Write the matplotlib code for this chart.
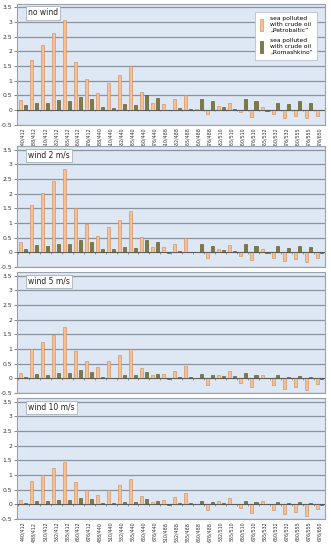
import numpy as np
import matplotlib.pyplot as plt
from matplotlib.patches import Patch

labels = ['440/412', '488/412', '510/412', '532/412', '555/412', '650/412', '676/412',
          '488/440', '510/440', '532/440', '555/440', '650/440', '676/440',
          '510/488', '532/488', '555/488', '650/488', '676/488',
          '532/510', '555/510', '650/510', '676/510',
          '555/532', '650/532', '676/532',
          '650/555', '676/555', '676/650']

titles = ['no wind', 'wind 2 m/s', 'wind 5 m/s', 'wind 10 m/s']

petro_nowind = [0.35, 1.70, 2.20, 2.62, 3.07, 1.63, 1.05, 0.57, 0.90, 1.20, 1.50, 0.60, 0.22,
                0.19, 0.38, 0.52, 0.02, -0.14, 0.14, 0.25, -0.07, -0.23, 0.09, -0.14,
                -0.28, -0.20, -0.28, -0.20]
roma_nowind = [0.15, 0.22, 0.25, 0.32, 0.30, 0.45, 0.38, 0.10, 0.08, 0.20, 0.15, 0.50, 0.40,
               -0.02, 0.08, 0.02, 0.38, 0.31, 0.10, 0.03, 0.38, 0.31, -0.03, 0.25,
               0.20, 0.29, 0.23, -0.02]

petro_w2 = [0.35, 1.60, 2.02, 2.42, 2.85, 1.52, 0.98, 0.55, 0.85, 1.12, 1.40, 0.53, 0.18,
            0.18, 0.30, 0.48, 0.01, -0.20, 0.11, 0.24, -0.11, -0.27, 0.10, -0.18,
            -0.29, -0.23, -0.33, -0.20]
roma_w2 = [0.12, 0.25, 0.23, 0.30, 0.28, 0.42, 0.35, 0.13, 0.10, 0.20, 0.16, 0.43, 0.37,
           -0.02, 0.04, 0.01, 0.27, 0.21, 0.08, 0.03, 0.29, 0.23, -0.03, 0.21,
           0.16, 0.22, 0.19, -0.02]

petro_w5 = [0.19, 1.00, 1.24, 1.49, 1.75, 0.94, 0.60, 0.37, 0.60, 0.79, 1.01, 0.35, 0.10,
            0.15, 0.26, 0.43, 0.02, -0.22, 0.11, 0.24, -0.15, -0.30, 0.11, -0.23,
            -0.35, -0.30, -0.41, -0.19]
roma_w5 = [0.06, 0.14, 0.12, 0.17, 0.19, 0.27, 0.21, 0.05, 0.00, 0.10, 0.10, 0.22, 0.15,
           -0.02, 0.03, 0.03, 0.16, 0.10, 0.07, 0.09, 0.17, 0.12, 0.00, 0.10,
           0.03, 0.09, 0.03, -0.03]

petro_w10 = [0.15, 0.81, 1.01, 1.23, 1.43, 0.77, 0.50, 0.32, 0.50, 0.67, 0.85, 0.28, 0.07,
             0.14, 0.26, 0.38, 0.02, -0.19, 0.11, 0.22, -0.13, -0.28, 0.11, -0.21,
             -0.33, -0.27, -0.39, -0.16]
roma_w10 = [0.04, 0.12, 0.12, 0.16, 0.16, 0.22, 0.19, 0.05, 0.05, 0.09, 0.09, 0.17, 0.13,
            -0.01, 0.03, 0.03, 0.11, 0.08, 0.04, 0.02, 0.11, 0.08, 0.00, 0.08,
            0.03, 0.09, 0.03, -0.02]

petro = [petro_nowind, petro_w2, petro_w5, petro_w10]
roma = [roma_nowind, roma_w2, roma_w5, roma_w10]

orange = '#fbbe8c'
orange_edge = '#c98a5a'
olive = '#807a3c'
olive_edge = '#4f4a20'
bg = '#dde8f4'
gridc = '#8a949e'

fig = plt.figure(figsize=(3.31, 5.5), dpi=100)
bottoms = [0.7736, 0.5145, 0.2855, 0.0564]
x = np.arange(len(labels))
w = 0.28

for k in range(4):
    ax = fig.add_axes([0.052, bottoms[k], 0.930, 0.2195])
    ax.set_facecolor(bg)
    ax.bar(x - 0.21, petro[k], w, color=orange, edgecolor=orange_edge, linewidth=0.4, zorder=3)
    ax.bar(x + 0.21, roma[k], w, color=olive, edgecolor=olive_edge, linewidth=0.4, zorder=3)
    ax.set_xlim(-0.55, len(labels) - 0.5)
    ax.set_ylim(-0.5, 3.62)
    ax.set_yticks(np.arange(-0.5, 3.51, 0.5))
    ax.set_yticklabels(['%g' % v for v in np.arange(-0.5, 3.51, 0.5)], fontsize=4.3, color='#333333')
    ax.tick_params(axis='y', length=2, width=0.5, pad=1.5, colors='#555555', labelcolor='#333333')
    ax.grid(axis='y', color=gridc, linewidth=0.9, zorder=1)
    ax.axhline(0, color='#555555', linewidth=0.6, zorder=4)
    ax.vlines(np.arange(-0.5, len(labels)), -0.05, 0, color='#555555', linewidth=0.4, zorder=4)
    for s in ax.spines.values():
        s.set_color('#9aa3ac')
        s.set_linewidth(0.8)
    ax.set_xticks(x)
    if k in (0, 3):
        ax.set_xticklabels(labels, rotation=90, fontsize=3.4, color='#333333')
        ax.tick_params(axis='x', length=0, pad=2)
    else:
        ax.set_xticklabels([])
        ax.tick_params(axis='x', length=0)
    ax.text(0.035, 0.925, titles[k], transform=ax.transAxes, fontsize=5.5, va='center',
            ha='left', color='#222222',
            bbox=dict(boxstyle='square,pad=0.3', facecolor='white', edgecolor='#9aa3ac', linewidth=0.5),
            zorder=6)
    if k == 0:
        handles = [Patch(facecolor=orange, edgecolor=orange_edge, linewidth=0.4),
                   Patch(facecolor=olive, edgecolor=olive_edge, linewidth=0.4)]
        leg = ax.legend(handles,
                        ['sea polluted\nwith crude oil\n\u201ePetrobaltic\u201d',
                         'sea polluted\nwith crude oil\n\u201eRomashkino\u201d'],
                        loc='upper right', bbox_to_anchor=(0.985, 0.96), fontsize=4.3,
                        handlelength=0.45, handleheight=2.6, handletextpad=1.2,
                        labelspacing=0.9, borderpad=0.8, fancybox=False, framealpha=1,
                        edgecolor='#b0b8c0')
        leg.get_frame().set_linewidth(0.5)
        leg.set_zorder(7)

fig.savefig('out.png', dpi=100)
